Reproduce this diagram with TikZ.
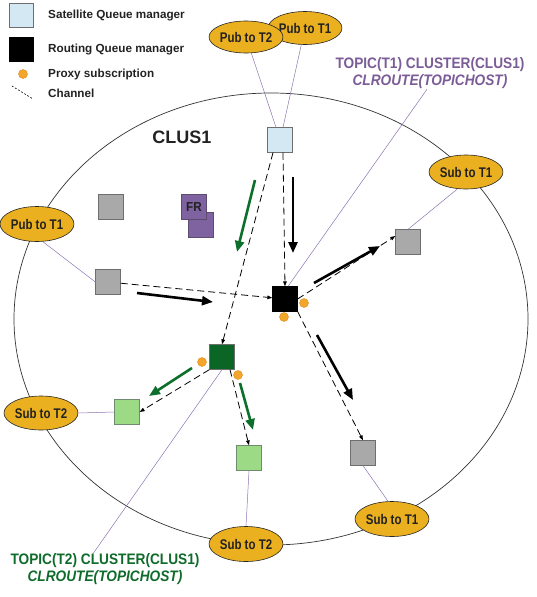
\documentclass[tikz,border=0pt]{standalone}
\usepackage{fontspec}
\setmainfont{Liberation Sans}
\newfontfamily\condfont[FakeStretch=0.9]{Liberation Sans}
\newfontfamily\narrowfont[FakeStretch=0.82]{Liberation Sans}
\usetikzlibrary{arrows.meta,shapes.geometric}
\definecolor{satblue}{HTML}{D4E8F4}
\definecolor{qmgray}{HTML}{A9A9A9}
\definecolor{qmedge}{HTML}{6E6E6E}
\definecolor{frpurple}{HTML}{7E63A0}
\definecolor{frpurpleedge}{HTML}{5C4C70}
\definecolor{dkgreen}{HTML}{0B6625}
\definecolor{ltgreen}{HTML}{9DDA86}
\definecolor{ltgreenedge}{HTML}{6F8A6C}
\definecolor{appgold}{HTML}{EBB020}
\definecolor{proxyorange}{HTML}{F2A62A}
\definecolor{proxyedge}{HTML}{E0891E}
\definecolor{linkpurple}{HTML}{8C74B0}
\definecolor{purpletext}{HTML}{7B5C97}
\definecolor{greentext}{HTML}{0F6B2A}
\definecolor{arrowgreen}{HTML}{0E6E2C}
\definecolor{textdark}{HTML}{222222}
\begin{document}
\begin{tikzpicture}[x=1pt,y=-1pt,
  qm/.style={rectangle, draw=qmedge, line width=0.8pt, minimum size=24.5pt, inner sep=0pt},
  satqm/.style={qm, fill=satblue},
  routqm/.style={qm, fill=black, draw=black},
  grayqm/.style={qm, fill=qmgray},
  frqm/.style={qm, fill=frpurple, draw=frpurpleedge},
  dkgreenqm/.style={qm, fill=dkgreen, draw=qmedge},
  ltgreenqm/.style={qm, fill=ltgreen, draw=ltgreenedge},
  app/.style={ellipse, draw=black!85, line width=0.6pt, fill=appgold, minimum width=72pt, minimum height=34pt, inner sep=0pt, text=textdark, font=\narrowfont\bfseries\fontsize{14pt}{15pt}\selectfont},
  proxy/.style={circle, fill=proxyorange, draw=proxyedge, line width=0.4pt, minimum size=9pt, inner sep=0pt},
  legtext/.style={anchor=west, inner sep=0pt, text=textdark, font=\bfseries\fontsize{11.7pt}{13pt}\selectfont},
  topictext/.style={align=center, inner sep=0pt, font=\condfont\bfseries\fontsize{15.2pt}{17pt}\selectfont},
  channel/.style={draw=black, line width=0.8pt, dash pattern=on 7pt off 4pt, -{Triangle[length=5pt,width=3.6pt]}},
  flow/.style={line width=2.6pt, -{Triangle[length=11pt,width=9pt]}},
  link/.style={draw=linkpurple, line width=0.5pt}
]
\useasboundingbox (0,0) rectangle (536,597);

% cluster boundary
\draw[line width=0.7pt, draw=black!80] (271,319) ellipse [x radius=257pt, y radius=226pt];
\node[font=\bfseries\fontsize{18pt}{20pt}\selectfont, text=textdark, inner sep=0pt] (clus) at (182,137) {CLUS1};

% legend
\node[satqm, minimum size=24pt] (legsat) at (21.5,15) {};
\node[legtext] (legsattext) at (48,16) {Satellite Queue manager};
\node[routqm, minimum size=24pt] (legrout) at (21.5,49) {};
\node[legtext] (legrouttext) at (48,50) {Routing Queue manager};
\node[proxy] (legproxy) at (23,74) {};
\node[legtext] (legproxytext) at (48,74) {Proxy subscription};
\coordinate (legchA) at (12,86);
\coordinate (legchB) at (33,99);
\draw[line width=0.6pt, dash pattern=on 1.8pt off 1.8pt] (legchA) -- (legchB);
\node[legtext] (legchtext) at (48,93) {Channel};

% queue managers
\node[satqm] (S) at (280,140) {};
\node[routqm] (R) at (285,299) {};
\node[dkgreenqm] (G) at (222,357) {};
\node[grayqm] (GA) at (111,207) {};
\node[frqm] (FRb) at (201,225) {};
\node[frqm, text=textdark, font=\condfont\bfseries\fontsize{13pt}{14pt}\selectfont] (FRa) at (194,207) {FR};
\node[grayqm] (L) at (108,282) {};
\node[grayqm] (GR) at (408,242) {};
\node[grayqm] (GR2) at (363,453) {};
\node[ltgreenqm] (LG1) at (127,412) {};
\node[ltgreenqm] (LG2) at (249,458) {};

% applications
\node[app, minimum width=70pt, minimum height=33pt] (P1) at (305,28) {Pub to T1};
\node[app, minimum height=32pt] (P2) at (246,37) {Pub to T2};
\node[app, minimum height=35pt] (PL) at (37,224) {Pub to T1};
\node[app] (ST1a) at (466,172) {Sub to T1};
\node[app, minimum height=35pt] (ST1b) at (392,519) {Sub to T1};
\node[app] (ST2a) at (41,413) {Sub to T2};
\node[app, minimum height=35pt] (ST2b) at (246,544) {Sub to T2};

% topic definitions
\node[topictext, text=purpletext] (TT1) at (430,73.5) {TOPIC(T1) CLUSTER(CLUS1)\\{\itshape CLROUTE(TOPICHOST)}};
\node[topictext, text=greentext] (TT2) at (105,569.5) {TOPIC(T2) CLUSTER(CLUS1)\\{\itshape CLROUTE(TOPICHOST)}};

% application links
\draw[link] (P2) -- ([xshift=-4pt]S.north);
\draw[link] (P1) -- ([xshift=3pt]S.north);
\draw[link] ([xshift=6pt]PL.south) -- (L.west);
\draw[link] ([xshift=-9pt]ST1a.south) -- (GR.north);
\draw[link] (GR2.south) -- ([xshift=-4pt]ST1b.north);
\draw[link] (ST2a.east) -- (LG1.west);
\draw[link] (LG2.south) -- (ST2b.north);
\draw[link] ([xshift=-3pt]TT1.south) -- ([xshift=3pt]R.north);
\draw[link] (G.south) -- ([xshift=-12pt]TT2.north);

% channels
\draw[channel] ([xshift=3pt]S.south) -- (R.north);
\draw[channel] ([xshift=-7pt]S.south) -- (G.north);
\draw[channel] (L) -- (R);
\draw[channel] (R.east) -- ([yshift=6pt]GR.west);
\draw[channel] (R.south east) -- (GR2.north);
\draw[channel] (G.south west) -- (LG1.east);
\draw[channel] ([xshift=8pt]G.south) -- (LG2.north);

% proxy subscriptions
\node[proxy] (pxR1) at (304,303) {};
\node[proxy] (pxR2) at (284,317) {};
\node[proxy] (pxG1) at (202,362) {};
\node[proxy] (pxG2) at (238,375) {};

% publication flows
\coordinate (fa1s) at (137,293); \coordinate (fa1e) at (213,302);
\coordinate (fa2s) at (293,177); \coordinate (fa2e) at (293,253);
\coordinate (fa3s) at (314,283); \coordinate (fa3e) at (380,246);
\coordinate (fa4s) at (317,335); \coordinate (fa4e) at (353,400);
\coordinate (fg1s) at (255,180); \coordinate (fg1e) at (237,252);
\coordinate (fg2s) at (192,368); \coordinate (fg2e) at (149,396);
\coordinate (fg3s) at (240,383); \coordinate (fg3e) at (253,430);
\draw[flow, black] (fa1s) -- (fa1e);
\draw[flow, black] (fa2s) -- (fa2e);
\draw[flow, black] (fa3s) -- (fa3e);
\draw[flow, black] (fa4s) -- (fa4e);
\draw[flow, arrowgreen] (fg1s) -- (fg1e);
\draw[flow, arrowgreen] (fg2s) -- (fg2e);
\draw[flow, arrowgreen] (fg3s) -- (fg3e);
\end{tikzpicture}
\end{document}
